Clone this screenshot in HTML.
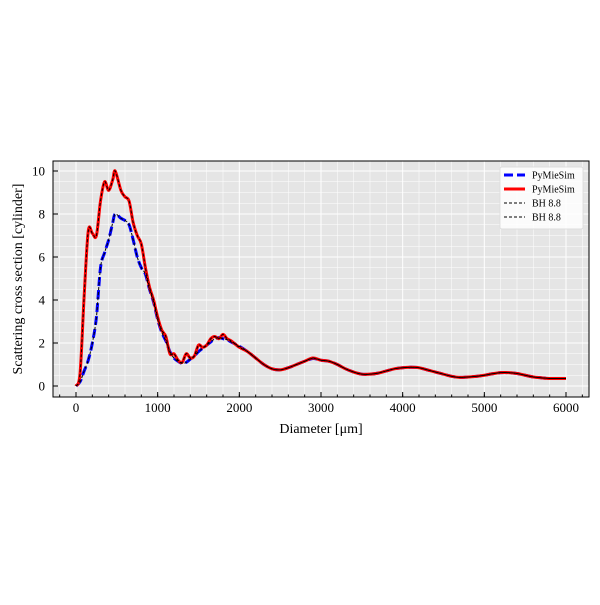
<!DOCTYPE html>
<html><head><meta charset="utf-8"><style>
body{margin:0;background:#fff;}
svg{font-family:"Liberation Serif",serif;}
</style></head><body>
<svg width="600" height="600" viewBox="0 0 600 600">
<g id="plot"></g>
</svg>
<script>
const xs=[0,50,100,150,200,250,300,350,400,450,480,550,600,650,700,750,800,850,900,950,1000,1050,1100,1150,1200,1250,1300,1350,1400,1450,1500,1550,1600,1650,1700,1750,1800,1850,1900,2000,2100,2200,2300,2400,2500,2600,2700,2800,2900,3000,3100,3200,3300,3400,3500,3600,3700,3800,3900,4000,4100,4200,4300,4400,4500,4600,4700,4800,4900,5000,5100,5200,5300,5400,5500,5600,5700,5800,5900,6000];
const redVals=[0,0.6,4.2,7.2,7.1,7.0,8.6,9.5,9.1,9.6,10,9.1,8.8,8.6,7.6,7.0,6.6,5.5,4.6,4.0,3.2,2.6,2.3,1.5,1.5,1.2,1.1,1.5,1.3,1.4,1.9,1.8,1.9,2.2,2.3,2.2,2.4,2.2,2.1,1.8,1.6,1.3,1.0,0.8,0.75,0.85,1.0,1.15,1.3,1.2,1.15,1.0,0.8,0.65,0.55,0.55,0.6,0.7,0.8,0.85,0.87,0.85,0.75,0.65,0.55,0.45,0.4,0.42,0.45,0.5,0.57,0.62,0.62,0.58,0.5,0.42,0.38,0.35,0.35,0.35];
const blueVals=[0,0.2,0.7,1.2,2.0,3.2,5.5,6.2,6.8,7.6,8.0,7.8,7.7,7.5,6.8,6.0,5.5,5.2,4.5,3.9,3.1,2.5,2.1,1.6,1.3,1.15,1.05,1.1,1.25,1.4,1.6,1.75,1.9,2.05,2.2,2.25,2.2,2.15,2.05,1.85,1.6,1.3,1.0,0.8,0.75,0.85,1.0,1.15,1.28,1.2,1.15,1.0,0.8,0.65,0.55,0.55,0.6,0.7,0.8,0.85,0.87,0.85,0.75,0.65,0.55,0.45,0.4,0.42,0.45,0.5,0.57,0.62,0.62,0.58,0.5,0.42,0.38,0.35,0.35,0.35];
const xTicks=[0,1000,2000,3000,4000,5000,6000];
const yTicks=[0,2,4,6,8,10];
const L=53,R=589,T=161,B=397;
const X=v=>76+v*490/6000, Y=v=>386-v*21.5;
const NS='http://www.w3.org/2000/svg', g=document.getElementById('plot');
function el(t,a,p){const e=document.createElementNS(NS,t);for(const k in a)e.setAttribute(k,a[k]);(p||g).appendChild(e);return e;}
const bg=el('rect',{x:L,y:T,width:R-L,height:B-T,fill:'#e5e5e5'});


for(let v=-200;v<=6200;v+=200){if(X(v)>L&&X(v)<R)el('line',{x1:X(v),x2:X(v),y1:T,y2:B,stroke:'#fff','stroke-width':v%1000==0?1:0.5});}
for(let v=-0.5;v<=10.5;v+=0.5){if(Y(v)>T&&Y(v)<B)el('line',{x1:L,x2:R,y1:Y(v),y2:Y(v),stroke:'#fff','stroke-width':v%2==0?1:0.5});}
function path(vals){const p=xs.map((x,i)=>[X(x),Y(vals[i])]);let d='M'+p[0];for(let i=0;i<p.length-1;i++){const a=p[i-1]||p[i],b=p[i],c=p[i+1],e=p[i+2]||c;d+=`C${b[0]+(c[0]-a[0])/6},${b[1]+(c[1]-a[1])/6} ${c[0]-(e[0]-b[0])/6},${c[1]-(e[1]-b[1])/6} ${c[0]},${c[1]}`;}return d;}
const s1=el('path',{d:path(blueVals),fill:'none',stroke:'#0000ff','stroke-width':3,'stroke-dasharray':'9,4'});


const s2=el('path',{d:path(redVals),fill:'none',stroke:'#ff0000','stroke-width':3});


[blueVals,redVals].forEach(v=>{const s=el('path',{d:path(v),fill:'none',stroke:'#000','stroke-width':1,'stroke-dasharray':'3,2'});

});
el('rect',{x:L,y:T,width:R-L,height:B-T,fill:'none',stroke:'#000','stroke-width':1});
xTicks.forEach(v=>{el('line',{x1:X(v),x2:X(v),y1:B,y2:B-5,stroke:'#000'});
const t=el('text',{x:X(v),y:B+15,'text-anchor':'middle','font-size':13});t.textContent=v;

});
for(let v=-200;v<=6200;v+=200)if(X(v)>L&&X(v)<R)el('line',{x1:X(v),x2:X(v),y1:B,y2:B-2.5,stroke:'#000'});
yTicks.forEach(v=>{el('line',{x1:L,x2:L+5,y1:Y(v),y2:Y(v),stroke:'#000'});
const t=el('text',{x:L-8,y:Y(v)+4.5,'text-anchor':'end','font-size':13});t.textContent=v;

});
const xt=el('text',{x:321,y:433,'text-anchor':'middle','font-size':14});xt.textContent='Diameter [μm]';


const yt=el('text',{x:22,y:279,'text-anchor':'middle','font-size':14,transform:'rotate(-90 22 279)'});yt.textContent='Scattering cross section [cylinder]';


const lg=el('g',{});


el('rect',{x:500,y:167,width:83,height:62,fill:'#fff','fill-opacity':0.85,stroke:'#ddd',rx:2},lg);
const items=[['#0000ff',3,'9,4'],['#ff0000',3,''],['#000',1,'3,2'],['#000',1,'3,2']],names=['PyMieSim','PyMieSim','BH 8.8','BH 8.8'];
items.forEach((it,i)=>{const y=175+i*14;el('line',{x1:504,x2:525,y1:y,y2:y,stroke:it[0],'stroke-width':it[1],'stroke-dasharray':it[2]},lg);
const t=el('text',{x:532,y:y+3.5,'font-size':10},lg);t.textContent=names[i];

});
</script>
</body></html>
